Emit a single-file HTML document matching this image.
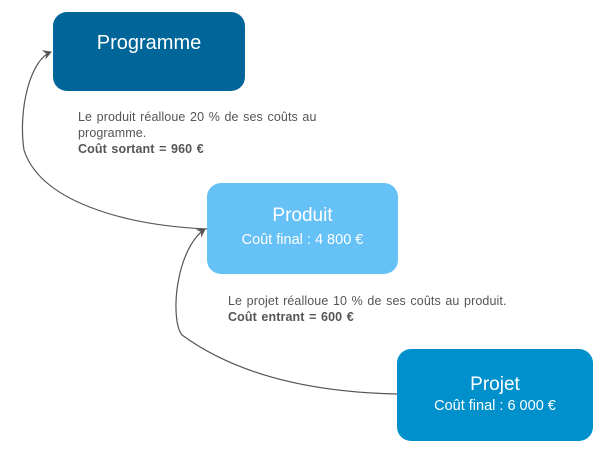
<!DOCTYPE html>
<html><head><style>
body{margin:0;width:609px;height:455px;background:#fff;position:relative;font-family:"Liberation Sans",sans-serif;overflow:hidden}
.b{position:absolute;border-radius:14px;color:#fff;text-align:center}
.t{position:absolute;color:#555;font-size:12.5px;line-height:16px;letter-spacing:0.1px;word-spacing:1px;white-space:nowrap}
</style></head><body>
<svg width="609" height="455" style="position:absolute;left:0;top:0">
<defs><marker id="a" markerWidth="10" markerHeight="10" refX="8" refY="5" orient="auto" markerUnits="userSpaceOnUse"><path d="M0,0 L9,5 L0,10 L3,5 z" fill="#555"/></marker></defs>
<path d="M207,229 C120,225 40,200 24,150 C18,110 30,60 51,52" fill="none" stroke="#555" stroke-width="1.2" marker-end="url(#a)"/>
<path d="M397,394 C300,392 230,370 182,335 C170,320 175,250 205,229" fill="none" stroke="#555" stroke-width="1.2" marker-end="url(#a)"/>
</svg>
<div class="b" style="left:53px;top:12px;width:192px;height:79px;background:#006699"><div style="font-size:20px;margin-top:20px">Programme</div></div>
<div class="b" style="left:207px;top:183px;width:191px;height:91px;background:#66c1f7"><div style="font-size:19px;margin-top:22px">Produit</div><div style="font-size:14.5px;margin-top:5px">Coût final : 4 800 €</div></div>
<div class="b" style="left:397px;top:349px;width:196px;height:92px;background:#0091cc"><div style="font-size:19px;margin-top:25px">Projet</div><div style="font-size:14.5px;margin-top:2px">Coût final : 6 000 €</div></div>
<div class="t" style="left:78px;top:109px">Le produit réalloue 20 % de ses coûts au<br>programme.<br><b>Coût sortant = 960 €</b></div>
<div class="t" style="left:228px;top:293px">Le projet réalloue 10 % de ses coûts au produit.<br><b>Coût entrant = 600 €</b></div>
</body></html>
